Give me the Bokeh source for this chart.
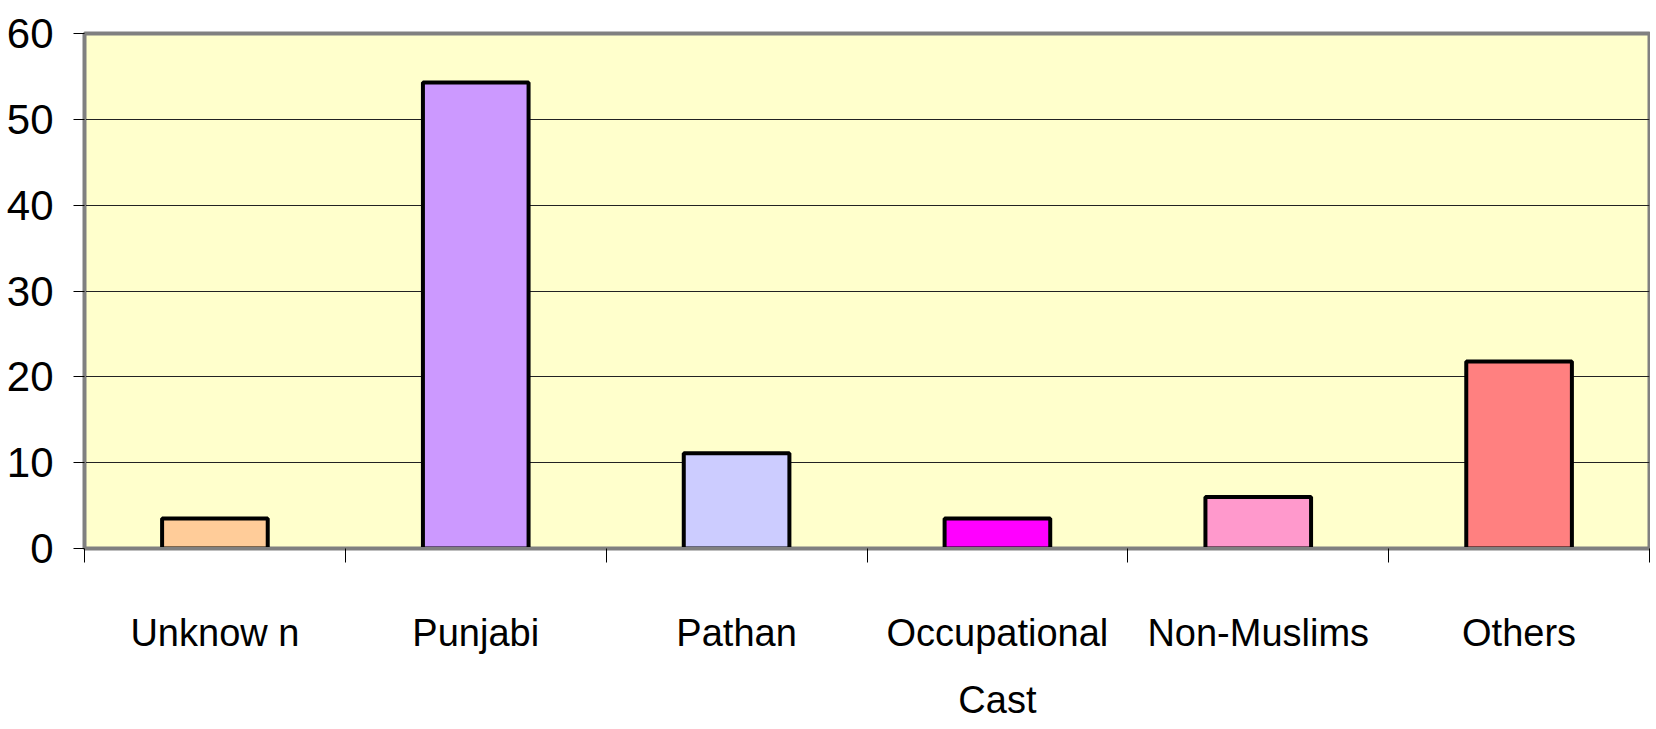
from bokeh.plotting import figure
from bokeh.models import FixedTicker, Range1d, ColumnDataSource
from bokeh.embed import file_html
from bokeh.resources import INLINE

categories = ["Unknow n", "Punjabi", "Pathan", "Occupational\nCast", "Non-Muslims", "Others"]
values = [3.5, 54.3, 11.1, 3.5, 6.0, 21.8]
colors = ["#FFCC99", "#CC99FF", "#CCCCFF", "#FF00FF", "#FF99CC", "#FF8080"]
y_ticks = [0, 10, 20, 30, 40, 50, 60]

xs = [i + 0.5 for i in range(len(categories))]
src = ColumnDataSource(dict(x=xs, top=values, color=colors))

FONT = "Liberation Sans"

p = figure(width=1650, height=724, output_backend="svg", toolbar_location=None,
           x_range=Range1d(0, len(categories)), y_range=Range1d(0, 60),
           min_border_left=84, min_border_right=1, min_border_top=33, min_border_bottom=176)
p.background_fill_color = "#FFFFCC"
p.outline_line_color = "#808080"
p.outline_line_width = 4

p.vbar(x="x", top="top", bottom=0, width=0.405, fill_color="color",
       line_color="black", line_width=4, source=src)

# x axis
p.xaxis.ticker = FixedTicker(ticks=xs, minor_ticks=list(range(len(categories) + 1)))
p.xaxis.major_label_overrides = {x: c for x, c in zip(xs, categories)}
p.xaxis.major_tick_out = 0
p.xaxis.major_tick_in = 0
p.xaxis.minor_tick_out = 14
p.xaxis.minor_tick_in = 0
p.xaxis.minor_tick_line_color = "black"
p.xaxis.axis_line_color = "#808080"
p.xaxis.axis_line_width = 3
p.xaxis.major_label_text_font = FONT
p.xaxis.major_label_text_font_size = "38px"
p.xaxis.major_label_text_line_height = 1.6
p.xaxis.major_label_text_color = "black"
p.xaxis.major_label_standoff = 49

# y axis
p.yaxis.ticker = FixedTicker(ticks=y_ticks)
p.yaxis.minor_tick_line_color = None
p.yaxis.major_tick_out = 11
p.yaxis.major_tick_in = 0
p.yaxis.major_tick_line_color = "black"
p.yaxis.axis_line_color = "#808080"
p.yaxis.axis_line_width = 3
p.yaxis.major_label_text_font = FONT
p.yaxis.major_label_text_font_size = "42px"
p.yaxis.major_label_text_color = "black"
p.yaxis.major_label_standoff = 20

p.xgrid.grid_line_color = None
p.ygrid.grid_line_color = "#222222"
p.ygrid.grid_line_width = 1.2

open("out.html", "w").write(file_html(p, INLINE))
